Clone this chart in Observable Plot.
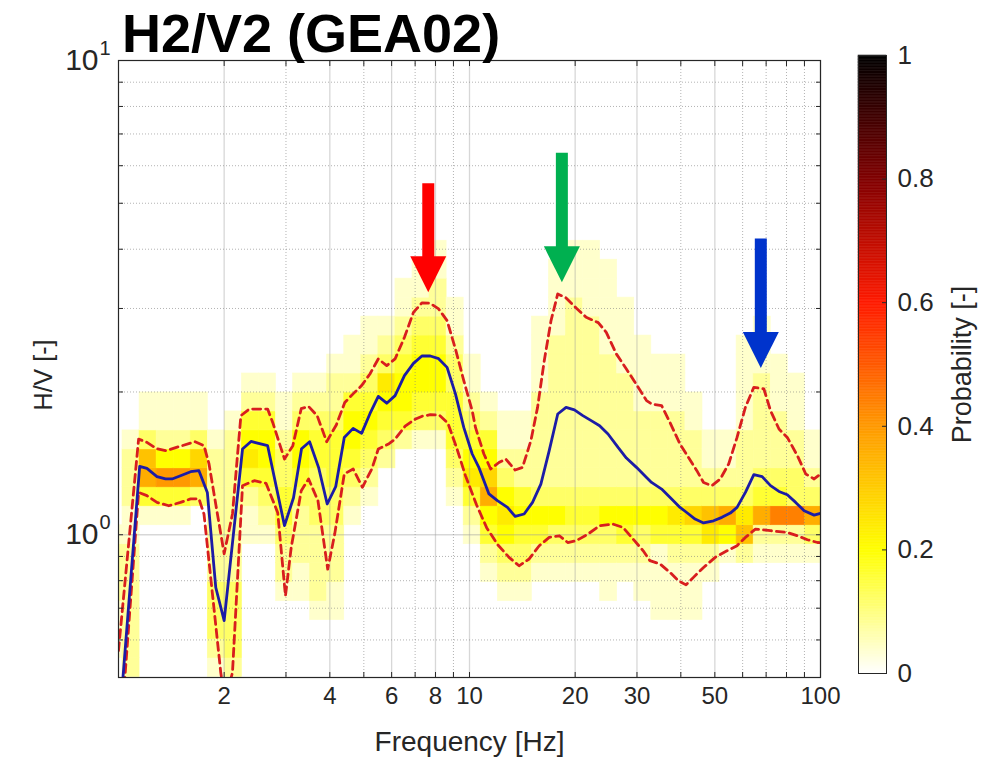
<!DOCTYPE html>
<html><head><meta charset="utf-8">
<script src="https://cdn.jsdelivr.net/npm/d3@7"></script>
<script src="https://cdn.jsdelivr.net/npm/@observablehq/plot@0.6"></script>
<style>
html,body{margin:0;padding:0;background:#fff;}
#wrap{position:relative;width:985px;height:761px;overflow:hidden;font-family:"Liberation Sans",Arial,sans-serif;}
#title{position:absolute;left:122px;top:6px;font-weight:bold;font-size:54px;line-height:54px;color:#000;white-space:nowrap;z-index:3;}
#main,#cbar{position:absolute;top:0;}
#main{left:0;z-index:1;} #cbar{left:820px;z-index:2;}
</style></head><body>
<div id="wrap"><div id="title">H2/V2 (GEA02)</div><div id="main"></div><div id="cbar"></div></div>
<script>
// ---------- data ----------
const titleText = "H2/V2 (GEA02)";
const xLabel = "Frequency [Hz]";
const yLabel = "H/V [-]";
const cbLabel = "Probability [-]";
const xMajor = [2, 4, 6, 8, 10, 20, 30, 50, 100];
const xMinor = [3, 5, 7, 9, 40, 60, 70, 80, 90];
const yMajor = [1, 10];
const yMinor = [0.6, 0.7, 0.8, 0.9, 2, 3, 4, 5, 6, 7, 8, 9];
const cbTicks = [0, 0.2, 0.4, 0.6, 0.8, 1];

// median H/V curve [frequency Hz, H/V]
const medianCurve = [[1.00,0.38],[1.149,1.394],[1.205,1.380],[1.287,1.326],[1.361,1.311],[1.421,1.311],[1.502,1.332],[1.605,1.358],[1.695,1.365],[1.791,1.228],[1.893,0.774],[2.000,0.659],[2.256,1.516],[2.385,1.573],[2.660,1.541],[2.971,1.045],[3.152,1.197],[3.323,1.518],[3.503,1.571],[3.717,1.385],[3.932,1.161],[4.157,1.263],[4.398,1.604],[4.661,1.676],[4.927,1.636],[5.204,1.800],[5.497,1.958],[5.810,1.894],[6.137,1.965],[6.526,2.165],[6.923,2.298],[7.318,2.382],[7.731,2.382],[8.166,2.351],[8.632,2.254],[9.119,1.981],[9.631,1.684],[10.18,1.480],[10.63,1.387],[11.36,1.219],[12.01,1.180],[12.83,1.142],[13.49,1.093],[14.31,1.106],[15.12,1.170],[15.97,1.279],[16.87,1.504],[17.84,1.797],[18.84,1.856],[19.90,1.833],[21.03,1.783],[22.22,1.740],[23.48,1.698],[24.81,1.631],[26.50,1.528],[27.99,1.451],[29.90,1.387],[31.94,1.321],[33.01,1.289],[35.27,1.248],[37.66,1.190],[39.79,1.142],[41.58,1.114],[43.92,1.079],[46.43,1.059],[49.58,1.070],[52.38,1.088],[55.34,1.111],[57.84,1.142],[61.10,1.228],[64.57,1.339],[68.21,1.326],[72.05,1.269],[76.16,1.234],[80.44,1.214],[84.97,1.170],[89.81,1.124],[95.91,1.100],[100,1.109]];
// upper percentile curve
const upperCurve = [[1.00,0.57],[1.141,1.591],[1.205,1.566],[1.285,1.518],[1.364,1.504],[1.518,1.541],[1.651,1.571],[1.752,1.541],[1.811,1.410],[1.896,1.151],[2.000,0.912],[2.112,1.106],[2.232,1.783],[2.358,1.841],[2.660,1.841],[2.750,1.725],[2.971,1.444],[3.138,1.541],[3.316,1.844],[3.480,1.864],[3.681,1.783],[3.918,1.571],[4.177,1.706],[4.412,1.901],[4.683,1.989],[4.927,2.063],[5.204,2.183],[5.497,2.348],[5.810,2.273],[6.137,2.348],[6.526,2.608],[6.923,2.944],[7.318,3.083],[7.731,3.076],[8.166,2.993],[8.632,2.828],[9.119,2.465],[9.631,2.113],[10.18,1.826],[10.40,1.684],[10.99,1.480],[11.49,1.376],[12.13,1.420],[12.69,1.444],[13.49,1.369],[14.16,1.387],[14.96,1.579],[15.63,1.856],[16.33,2.328],[17.07,2.828],[17.84,3.220],[18.84,3.158],[20.13,3.008],[21.50,2.874],[23.27,2.801],[24.53,2.672],[26.20,2.406],[27.99,2.236],[29.90,2.073],[31.94,1.918],[33.01,1.887],[35.27,1.871],[37.25,1.725],[39.79,1.553],[42.05,1.456],[44.43,1.365],[46.43,1.289],[49.05,1.269],[51.81,1.311],[54.75,1.410],[57.84,1.604],[61.10,1.856],[64.57,2.046],[68.98,2.030],[72.05,1.826],[76.16,1.671],[80.44,1.604],[85.94,1.468],[90.78,1.343],[95.91,1.311],[100,1.343]];
// lower percentile curve
const lowerCurve = [[1.00,0.33],[1.141,1.228],[1.205,1.209],[1.287,1.170],[1.391,1.151],[1.502,1.170],[1.605,1.190],[1.695,1.191],[1.752,1.106],[1.956,0.512],[2.012,0.447],[2.112,0.512],[2.256,1.269],[2.437,1.300],[2.632,1.284],[2.842,1.113],[2.990,0.743],[3.105,0.940],[3.316,1.238],[3.480,1.311],[3.700,1.180],[3.945,0.846],[4.130,1.003],[4.398,1.343],[4.661,1.376],[4.953,1.259],[5.273,1.378],[5.497,1.516],[5.899,1.556],[6.137,1.591],[6.556,1.694],[6.956,1.748],[7.332,1.778],[7.731,1.791],[8.204,1.787],[8.678,1.719],[9.210,1.518],[9.739,1.332],[10.47,1.157],[11.19,1.035],[12.03,0.953],[12.96,0.896],[13.84,0.860],[14.79,0.889],[15.80,0.948],[16.87,0.987],[18.03,0.995],[19.05,0.963],[20.13,0.971],[21.74,1.003],[23.48,1.045],[25.64,1.053],[27.38,1.036],[29.25,0.979],[31.25,0.925],[32.65,0.882],[34.88,0.868],[37.25,0.833],[39.36,0.800],[41.40,0.784],[43.46,0.813],[46.43,0.853],[50.12,0.896],[54.14,0.925],[57.84,0.948],[61.10,0.987],[65.25,1.028],[72.05,1.020],[80.44,1.011],[85.94,0.995],[91.79,0.976],[98.04,0.963],[100,0.962]];

// probability map: one string per frequency bin (low to high), one char per H/V bin (bottom to top); level * 0.04
const heatCols = [
"01112221000000000000000","22222221122210000000000","00000000149831100000000","0000000014a521100000000",
"0000000014a521100000000","00000000039731100000000","12333222222210000000000","23333222222221000000000",
"00000001124654210000000","00000001234554210000000","00001223443321100000000","00001122234553210000000",
"00012222333443210000000","00011222334443221000000","00000000123455421100000","00000000012345432110000",
"00000000000234563210000","00000000000024554321100","00000000000013455432110","00000000000013455432211",
"00000000012344433211000","00000001246543211000000","00000124597542100000000","00001235653211000000000",
"00001234542211000000000","00000124532222211110000","00000123532222222211110","00000123432222222222111",
"00000123432222222221111","00001123532222222111110","00000124532222221111000","00001123532222111100000",
"00011114532222111000000","00011124632222111000000","00011124732221100000000","00000126832110000000000",
"00000015932110000000000","00000028632221111100000","00000012943222221110000","00000012b43222111000000",
"00000012b33221110000000","00000013932110000000000"
];
const binStartLog = -0.0372, binWidthLog = 0.0486;   // log10 frequency bins
const rowStartLog = -0.30, rowHeightLog = 0.04;      // log10 H/V bins
const levelStep = 0.04;

// annotation arrows
const arrowFreq = [7.63, 18.33, 67.6];
const arrowTip = [3.245, 3.406, 2.247];
const arrowTail = [5.495, 6.374, 4.206];
const arrowColor = ["#ff0000", "#00b050", "#0033cc"];

// ---------- build ----------
document.getElementById("title").textContent = titleText;
const cells = [];
heatCols.forEach((col, k) => {
  for (let r = 0; r < col.length; r++) {
    const d = parseInt(col[r], 16);
    if (!d) continue;
    cells.push({
      x1: Math.pow(10, binStartLog + k * binWidthLog),
      x2: Math.pow(10, binStartLog + (k + 1) * binWidthLog),
      y1: Math.pow(10, rowStartLog + r * rowHeightLog),
      y2: Math.pow(10, rowStartLog + (r + 1) * rowHeightLog),
      p: d * levelStep
    });
  }
});

const colorScale = {type: "linear", domain: [0, 0.2, 0.4, 0.6, 0.8, 1],
  range: ["#ffffff", "#ffff00", "#ff9900", "#ff1a00", "#800000", "#000000"], interpolate: "rgb"};
const font = "'Liberation Sans', Arial, sans-serif";
const ink = "#262626";
const headDown = {draw(ctx, size) { const r = Math.sqrt(size / Math.PI); ctx.moveTo(-r, -2 * r); ctx.lineTo(r, -2 * r); ctx.lineTo(0, 0); ctx.closePath(); }};
const fx = d => d[0], fy = d => d[1];
const allX = [...xMajor, ...xMinor].filter(v => v < 100);

const main = Plot.plot({
  width: 985, height: 761,
  marginLeft: 118, marginRight: 165, marginTop: 60, marginBottom: 84,
  style: {fontFamily: font, color: ink, background: "transparent", overflow: "visible"},
  x: {type: "log", domain: [1, 100]},
  y: {type: "log", domain: [0.5, 10]},
  color: colorScale,
  marks: [
    Plot.rect(cells, {x1: "x1", x2: "x2", y1: "y1", y2: "y2", fill: "p", stroke: "p", strokeWidth: 0.6, clip: true}),
    Plot.gridX(xMajor, {stroke: "#9a9a9a", strokeOpacity: 0.4, strokeWidth: 1.3}),
    Plot.gridX(xMinor, {stroke: "#808080", strokeOpacity: 0.6, strokeDasharray: "1,2"}),
    Plot.gridY([1], {stroke: "#9a9a9a", strokeOpacity: 0.4, strokeWidth: 1.3}),
    Plot.gridY(yMinor, {stroke: "#808080", strokeOpacity: 0.6, strokeDasharray: "1,2"}),
    Plot.line(upperCurve, {x: fx, y: fy, stroke: "#d81e1e", strokeWidth: 2.8, strokeDasharray: "8,5", clip: true}),
    Plot.line(lowerCurve, {x: fx, y: fy, stroke: "#d81e1e", strokeWidth: 2.8, strokeDasharray: "8,5", clip: true}),
    Plot.line(medianCurve, {x: fx, y: fy, stroke: "#1c1ca6", strokeWidth: 2.8, clip: true}),
    ...arrowFreq.flatMap((f, i) => [
      Plot.ruleX([f], {x: d => d, y1: arrowTail[i], y2: arrowTip[i], stroke: arrowColor[i], strokeWidth: 12, insetBottom: 34}),
      Plot.dot([f], {x: d => d, y: arrowTip[i], r: 18, symbol: headDown, fill: arrowColor[i], stroke: "none"})
    ]),
    Plot.frame({stroke: ink, strokeWidth: 1.2}),
    Plot.axisX(allX, {anchor: "bottom", tickSize: -5, tickFormat: () => "", label: null, stroke: ink}),
    Plot.axisX(allX, {anchor: "top", tickSize: -5, tickFormat: () => "", label: null, stroke: ink}),
    Plot.axisY([...yMinor, 1], {anchor: "left", tickSize: -5, tickFormat: () => "", label: null, stroke: ink}),
    Plot.axisY([...yMinor, 1], {anchor: "right", tickSize: -5, tickFormat: () => "", label: null, stroke: ink}),
    Plot.text(xMajor, {x: d => d, frameAnchor: "bottom", text: d => String(d), textAnchor: "middle", dy: 26, fontSize: 24, fill: ink}),
    Plot.text(yMajor, {y: d => d, frameAnchor: "left", text: () => "10", textAnchor: "end", dx: -20, fontSize: 30, fill: ink}),
    Plot.text(yMajor, {y: d => d, frameAnchor: "left", text: d => String(Math.round(Math.log10(d))), textAnchor: "start", dx: -19, dy: -12, fontSize: 20, fill: ink}),
    Plot.text([xLabel], {text: d => d, frameAnchor: "bottom", textAnchor: "middle", dy: 73, fontSize: 28, fill: ink}),
    Plot.text([yLabel], {text: d => d, frameAnchor: "left", textAnchor: "middle", dx: -75, dy: 6, rotate: -90, fontSize: 25, fill: ink})
  ]
});
document.getElementById("main").appendChild(main);

const cbStep = 0.0025;
const cbSteps = d3.range(0, 1, cbStep);
const cbar = Plot.plot({
  width: 165, height: 761,
  marginLeft: 38, marginRight: 99, marginTop: 55, marginBottom: 88,
  style: {fontFamily: font, color: ink, background: "transparent", overflow: "visible"},
  x: {domain: [0, 1], axis: null},
  y: {domain: [0, 1]},
  color: colorScale,
  marks: [
    Plot.rect(cbSteps, {x1: 0, x2: 1, y1: d => d, y2: d => d + cbStep, fill: d => d + cbStep / 2, stroke: d => d + cbStep / 2, strokeWidth: 0.5}),
    Plot.frame({stroke: ink, strokeWidth: 1}),
    Plot.axisY(cbTicks, {anchor: "right", tickSize: -5, tickPadding: 16, fontSize: 26, label: null, tickFormat: d => String(+d.toFixed(1))}),
    Plot.text([cbLabel], {text: d => d, frameAnchor: "right", textAnchor: "middle", dx: 76, rotate: -90, fontSize: 27, fill: ink})
  ]
});
document.getElementById("cbar").appendChild(cbar);
</script></body></html>
